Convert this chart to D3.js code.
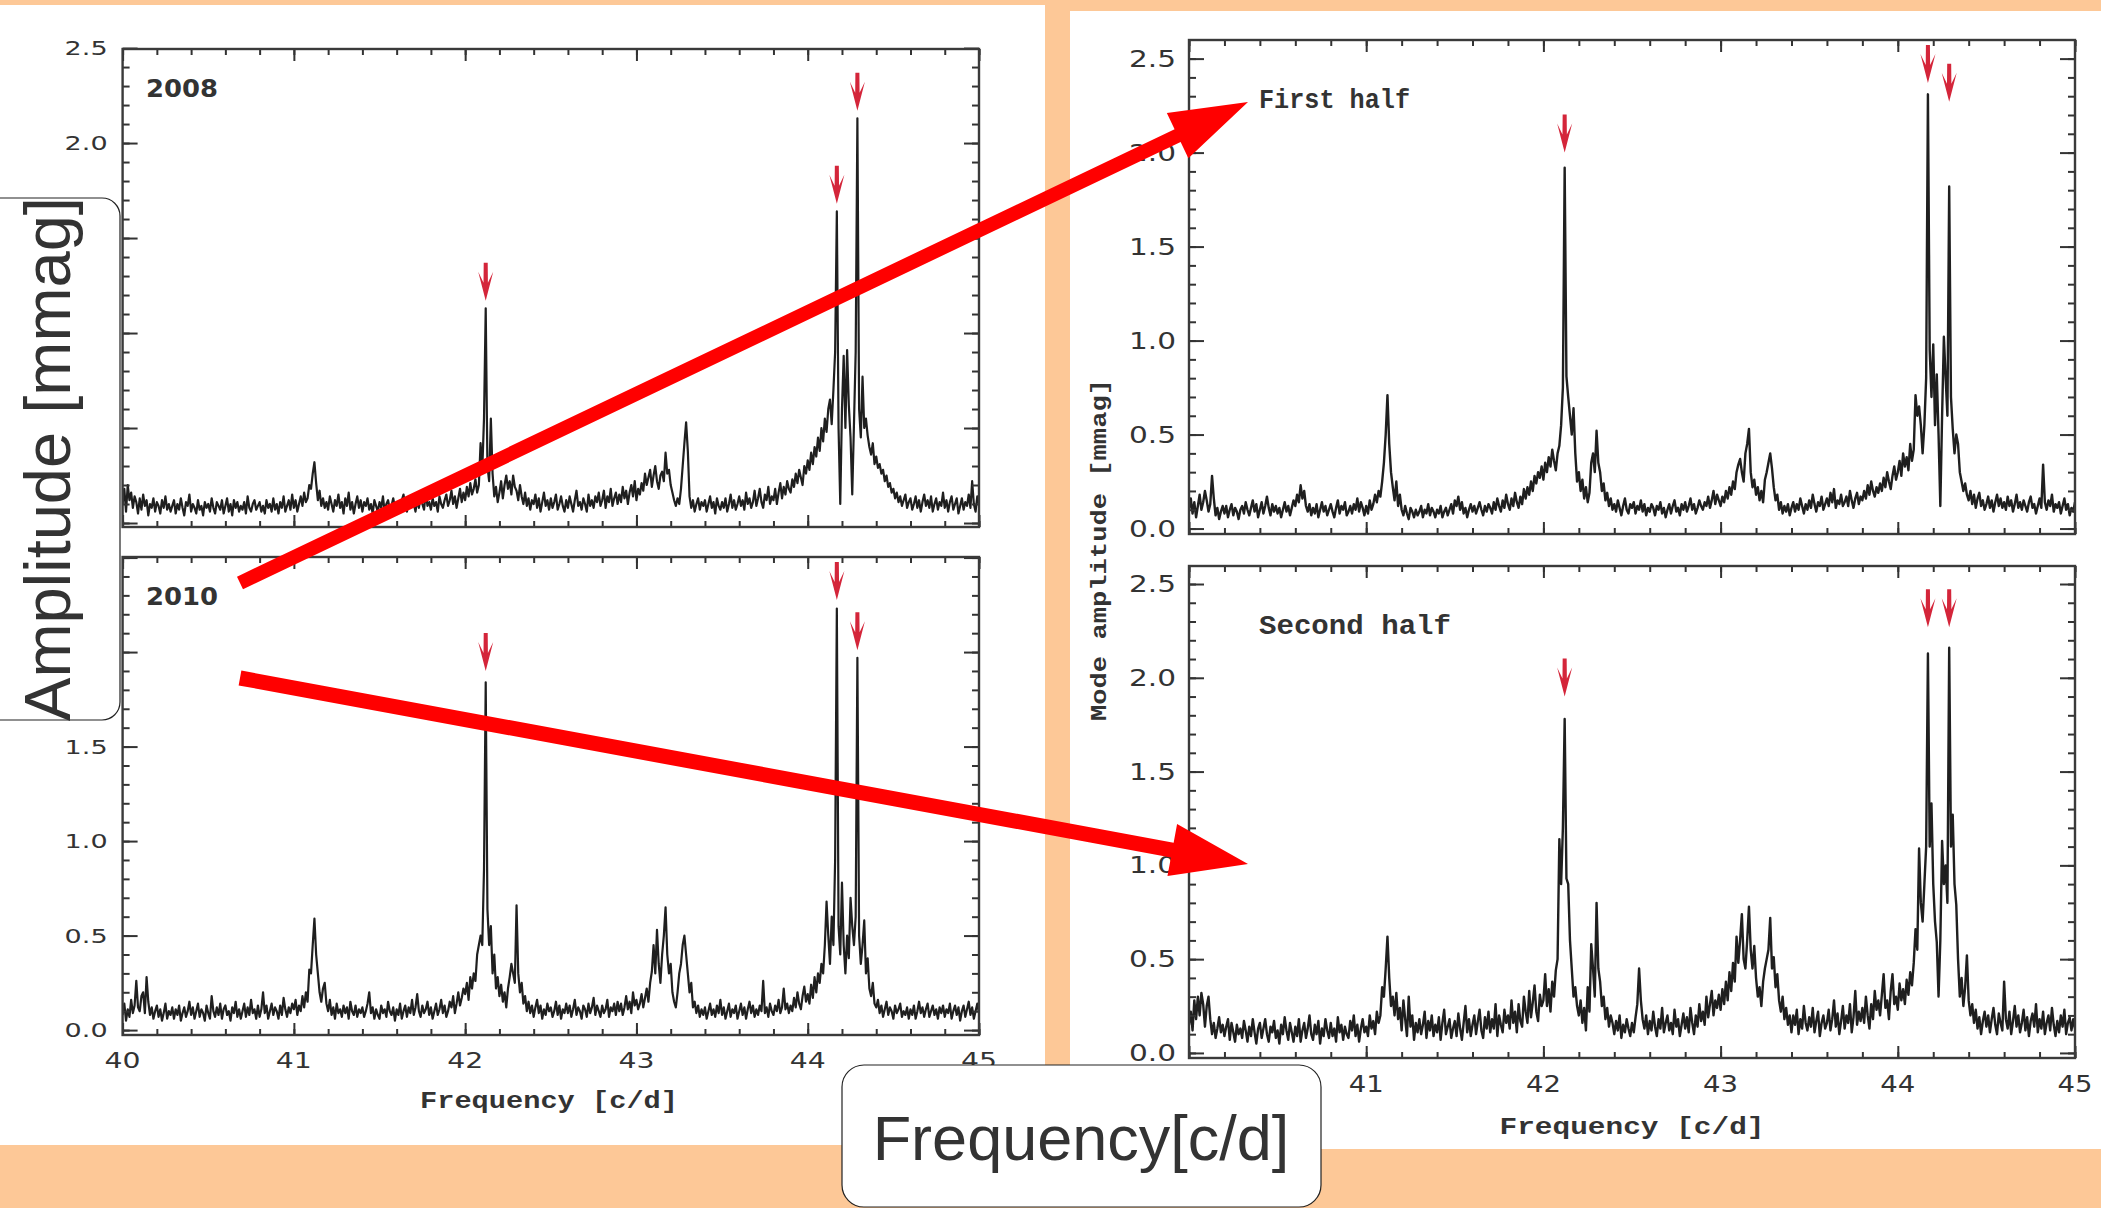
<!DOCTYPE html>
<html><head><meta charset="utf-8">
<script src="https://cdn.jsdelivr.net/npm/d3@7"></script>
<style>html,body{margin:0;padding:0;background:#fdc897;overflow:hidden}</style>
</head><body>
<svg id="c" width="2101" height="1208"></svg>
<script>
// ---------------- DATA ----------------
const FREQ_START = 40.0, FREQ_STEP = 0.01;           // frequency grid [c/d]
const xTickValues = [40, 41, 42, 43, 44, 45];
const xTickLabels = ["40", "41", "42", "43", "44", "45"];
const yTickValues = [0, 0.5, 1.0, 1.5, 2.0, 2.5];
const yTickLabels = ["0.0", "0.5", "1.0", "1.5", "2.0", "2.5"];
const panelTitles = ["2008", "2010", "First half", "Second half"];
const markerFreqs = [42.12, 44.17, 44.29];          // red arrows on modes

// amplitude [mmag], one value per 0.01 c/d from 40.00 to 45.00
const amp2008 = [
.10,.18,.06,.20,.12,.16,.08,.14,.11,.05,
.13,.07,.15,.09,.12,.04,.10,.08,.13,.06,
.11,.09,.05,.12,.08,.14,.07,.10,.06,.09,
.12,.05,.10,.07,.13,.08,.04,.11,.09,.15,
.06,.10,.08,.05,.12,.07,.09,.04,.11,.08,
.10,.06,.13,.08,.05,.11,.09,.07,.12,.05,
.09,.13,.06,.10,.04,.12,.08,.11,.06,.09,
.07,.11,.05,.14,.08,.06,.10,.12,.07,.09,
.11,.06,.09,.05,.12,.08,.10,.06,.13,.07,
.10,.05,.11,.08,.14,.06,.09,.12,.07,.15,
.08,.12,.06,.10,.14,.09,.16,.11,.13,.20,
.18,.26,.32,.21,.12,.17,.09,.13,.08,.11,
.07,.14,.10,.06,.12,.09,.15,.08,.11,.05,
.13,.09,.16,.07,.11,.05,.10,.14,.08,.12,
.06,.11,.09,.13,.07,.10,.05,.12,.09,.06,
.11,.08,.14,.06,.10,.12,.07,.09,.13,.08,
.05,.10,.07,.12,.15,.09,.06,.11,.08,.13,
.10,.06,.12,.08,.14,.10,.07,.16,.09,.11,
.07,.13,.09,.11,.06,.14,.10,.08,.12,.15,
.09,.12,.17,.10,.14,.08,.13,.18,.11,.16,
.12,.19,.14,.21,.15,.18,.23,.16,.20,.42,
.28,.55,1.13,.30,.22,.55,.26,.14,.19,.11,
.16,.22,.13,.20,.25,.18,.22,.15,.25,.19,
.17,.12,.20,.14,.10,.16,.09,.13,.07,.12,
.10,.15,.08,.13,.06,.11,.16,.09,.12,.07,
.13,.08,.11,.15,.07,.10,.14,.09,.06,.12,
.08,.14,.10,.06,.12,.17,.09,.11,.07,.13,
.10,.06,.15,.09,.12,.08,.14,.11,.16,.09,
.12,.17,.08,.14,.11,.18,.09,.13,.16,.10,
.15,.11,.19,.13,.17,.10,.16,.20,.14,.22,
.12,.18,.15,.21,.17,.26,.20,.24,.28,.19,
.25,.30,.22,.18,.25,.27,.22,.37,.26,.28,
.20,.16,.12,.09,.13,.10,.18,.30,.42,.53,
.38,.14,.08,.12,.06,.10,.13,.07,.11,.09,
.12,.06,.10,.14,.08,.11,.05,.13,.09,.07,
.11,.08,.13,.06,.10,.15,.08,.12,.07,.10,
.14,.09,.12,.07,.16,.10,.13,.08,.11,.17,
.09,.13,.18,.11,.08,.15,.12,.19,.10,.14,
.12,.18,.10,.16,.21,.13,.19,.15,.22,.18,
.16,.23,.19,.26,.21,.28,.24,.20,.30,.26,
.33,.28,.37,.31,.40,.35,.45,.38,.50,.43,
.55,.48,.60,.65,.52,.70,.90,1.64,.50,.10,
.60,.88,.50,.91,.62,.45,.15,.52,.90,2.13,
.60,.45,.77,.50,.55,.46,.40,.36,.42,.31,
.35,.29,.31,.26,.28,.22,.25,.19,.21,.16,
.18,.13,.16,.11,.14,.09,.12,.15,.08,.11,
.13,.07,.10,.14,.08,.12,.06,.11,.15,.09,
.12,.08,.14,.06,.10,.13,.07,.11,.09,.16,
.08,.12,.06,.11,.14,.07,.10,.13,.05,.09,
.13,.07,.11,.09,.15,.08,.22,.10,.06,.14,
.10];

const amp2010 = [
.08,.14,.05,.11,.07,.16,.09,.13,.26,.12,
.10,.18,.20,.09,.28,.15,.08,.12,.06,.10,
.13,.07,.11,.05,.09,.14,.06,.10,.08,.12,
.06,.11,.08,.13,.05,.09,.12,.07,.10,.15,
.08,.12,.06,.10,.14,.07,.11,.09,.05,.13,
.09,.06,.18,.10,.07,.12,.08,.14,.06,.11,
.13,.08,.10,.05,.12,.09,.15,.07,.11,.06,
.10,.14,.07,.12,.08,.16,.09,.11,.06,.13,
.07,.11,.20,.09,.13,.06,.10,.14,.08,.12,
.10,.06,.13,.08,.17,.11,.07,.12,.09,.14,
.11,.16,.08,.13,.10,.18,.12,.20,.15,.32,
.30,.45,.59,.40,.30,.20,.15,.22,.25,.14,
.10,.16,.08,.12,.06,.14,.09,.11,.07,.13,
.09,.12,.06,.15,.10,.08,.13,.07,.11,.09,
.12,.07,.10,.14,.20,.09,.12,.06,.11,.08,
.06,.13,.09,.11,.07,.15,.10,.08,.12,.05,
.11,.08,.14,.06,.10,.13,.07,.12,.09,.16,
.08,.12,.19,.10,.07,.13,.09,.11,.15,.08,
.12,.06,.10,.14,.08,.11,.16,.09,.13,.07,
.10,.15,.12,.18,.09,.14,.20,.13,.17,.22,
.19,.25,.16,.28,.22,.30,.26,.40,.45,.50,
.45,.85,1.84,.64,.45,.55,.30,.40,.22,.28,
.18,.24,.15,.20,.12,.22,.28,.35,.30,.25,
.66,.30,.20,.25,.14,.18,.10,.15,.09,.13,
.07,.12,.16,.09,.13,.06,.11,.08,.14,.10,
.12,.07,.10,.15,.08,.13,.06,.11,.09,.14,
.09,.13,.07,.11,.16,.08,.12,.10,.06,.13,
.11,.07,.14,.09,.12,.17,.08,.13,.10,.07,
.13,.09,.11,.16,.07,.12,.10,.14,.08,.15,
.10,.14,.08,.12,.18,.11,.15,.09,.20,.13,
.16,.11,.14,.19,.12,.17,.22,.15,.25,.31,
.45,.30,.53,.35,.25,.40,.50,.65,.40,.30,
.35,.20,.15,.12,.20,.30,.35,.45,.50,.40,
.30,.20,.25,.12,.15,.09,.13,.07,.11,.08,
.12,.06,.10,.14,.08,.11,.07,.13,.09,.16,
.08,.12,.06,.10,.14,.07,.11,.09,.13,.06,
.10,.14,.08,.12,.06,.11,.15,.09,.13,.07,
.11,.08,.13,.10,.26,.09,.12,.07,.14,.10,
.08,.13,.10,.16,.09,.12,.22,.11,.14,.09,
.13,.10,.17,.12,.20,.14,.11,.18,.23,.15,
.19,.14,.24,.17,.28,.20,.30,.25,.35,.30,
.45,.68,.50,.35,.60,.45,.90,2.23,.55,.40,
.78,.45,.30,.50,.38,.70,.55,.45,.60,1.97,
.50,.35,.45,.58,.30,.38,.22,.18,.25,.14,
.12,.16,.09,.13,.07,.11,.15,.08,.12,.10,
.06,.13,.09,.11,.14,.07,.10,.08,.12,.06,
.11,.08,.13,.06,.10,.15,.09,.12,.07,.11,
.14,.07,.10,.13,.08,.11,.06,.12,.09,.13,
.07,.11,.09,.14,.06,.10,.13,.08,.12,.05,
.10,.13,.07,.11,.15,.08,.12,.06,.10,.14,
.09];

const ampFirstHalf = [
.10,.16,.08,.14,.06,.12,.18,.10,.14,.20,
.15,.09,.13,.28,.16,.07,.11,.05,.09,.12,
.08,.12,.06,.10,.13,.07,.11,.09,.05,.10,
.12,.08,.14,.10,.07,.11,.15,.09,.13,.06,
.10,.14,.08,.12,.17,.11,.07,.13,.09,.12,
.08,.11,.06,.10,.14,.09,.12,.07,.11,.15,
.12,.18,.14,.23,.16,.20,.12,.09,.13,.07,
.11,.08,.13,.06,.10,.14,.09,.12,.07,.10,
.13,.09,.06,.11,.15,.08,.12,.10,.14,.07,
.09,.12,.08,.13,.10,.16,.09,.14,.11,.07,
.12,.08,.15,.10,.13,.18,.14,.20,.17,.25,
.35,.50,.71,.45,.30,.22,.15,.25,.12,.18,
.10,.07,.12,.08,.05,.11,.09,.06,.10,.07,
.09,.12,.06,.10,.08,.13,.07,.11,.09,.06,
.10,.08,.12,.06,.09,.11,.07,.10,.13,.08,
.15,.12,.17,.10,.14,.08,.11,.06,.10,.13,
.09,.12,.08,.11,.14,.10,.07,.12,.09,.13,
.11,.08,.14,.10,.16,.12,.09,.15,.11,.18,
.13,.10,.16,.12,.19,.14,.11,.17,.13,.21,
.16,.22,.18,.25,.20,.28,.24,.30,.27,.33,
.26,.35,.30,.38,.33,.42,.36,.31,.40,.44,
.55,.75,1.92,.81,.70,.60,.50,.64,.40,.25,
.30,.20,.26,.16,.22,.14,.19,.35,.40,.30,
.52,.35,.30,.20,.24,.15,.19,.12,.16,.10,
.13,.09,.15,.11,.07,.12,.16,.10,.08,.13,
.11,.14,.08,.12,.10,.15,.09,.13,.07,.11,
.09,.13,.11,.07,.12,.10,.14,.08,.11,.06,
.10,.13,.08,.12,.15,.09,.11,.07,.13,.10,
.14,.09,.12,.16,.10,.13,.08,.11,.15,.12,
.10,.14,.12,.17,.11,.15,.20,.13,.18,.15,
.12,.17,.14,.20,.16,.22,.18,.25,.21,.30,
.34,.37,.30,.25,.40,.45,.53,.30,.22,.26,
.18,.22,.15,.20,.14,.26,.30,.35,.40,.32,
.22,.15,.18,.10,.14,.08,.12,.09,.13,.07,
.11,.14,.09,.13,.10,.16,.12,.08,.13,.10,
.15,.11,.18,.13,.09,.14,.12,.17,.10,.13,
.16,.12,.19,.14,.21,.11,.15,.13,.18,.12,
.14,.17,.12,.20,.15,.11,.16,.19,.13,.17,
.15,.20,.16,.23,.18,.25,.20,.17,.22,.19,
.24,.20,.27,.22,.30,.25,.21,.28,.33,.26,
.30,.36,.28,.40,.33,.38,.31,.45,.36,.42,
.71,.60,.65,.55,.40,.55,.80,2.31,.95,.70,
.98,.55,.82,.50,.12,.60,1.02,.80,.60,1.82,
.70,.53,.40,.50,.45,.30,.25,.20,.24,.18,
.15,.20,.13,.18,.11,.16,.19,.12,.15,.10,
.13,.17,.11,.15,.09,.14,.18,.12,.16,.11,
.14,.10,.17,.12,.15,.09,.13,.18,.11,.14,
.10,.15,.12,.09,.14,.17,.11,.13,.08,.12,
.16,.11,.34,.14,.10,.15,.12,.18,.09,.13,
.11,.14,.08,.12,.16,.10,.13,.07,.11,.09,
.14];

const ampSecondHalf = [
.15,.22,.12,.28,.18,.30,.20,.32,.26,.14,
.25,.30,.18,.10,.16,.08,.13,.19,.11,.15,
.09,.14,.18,.07,.16,.11,.06,.15,.10,.13,
.08,.17,.12,.06,.14,.09,.18,.11,.05,.13,
.16,.08,.13,.18,.10,.06,.14,.11,.17,.08,
.12,.05,.15,.10,.19,.12,.07,.16,.11,.06,
.14,.09,.18,.06,.12,.16,.08,.13,.20,.10,
.07,.15,.10,.17,.05,.13,.09,.18,.12,.08,
.16,.09,.13,.06,.19,.11,.15,.07,.14,.10,
.08,.17,.12,.20,.09,.15,.06,.13,.18,.11,
.14,.09,.20,.13,.17,.10,.22,.16,.20,.35,
.30,.45,.62,.40,.25,.30,.20,.32,.18,.24,
.12,.28,.18,.09,.30,.14,.20,.07,.16,.11,
.18,.10,.15,.22,.08,.17,.12,.20,.09,.15,
.11,.19,.07,.16,.23,.10,.14,.18,.08,.13,
.17,.09,.21,.13,.07,.16,.25,.11,.18,.09,
.15,.20,.10,.17,.23,.12,.08,.19,.13,.22,
.11,.18,.13,.26,.09,.20,.15,.11,.23,.16,
.20,.13,.28,.16,.22,.11,.26,.17,.14,.30,
.22,.16,.33,.19,.27,.36,.22,.17,.31,.25,
.28,.42,.25,.34,.22,.38,.30,.44,.50,1.14,
.90,1.20,1.78,.93,.90,.60,.45,.30,.35,.25,
.20,.28,.16,.24,.12,.35,.22,.58,.45,.30,
.80,.45,.38,.25,.30,.18,.24,.14,.20,.16,
.10,.17,.12,.20,.08,.15,.11,.18,.13,.09,
.16,.11,.19,.26,.45,.28,.18,.13,.20,.10,
.17,.12,.22,.14,.09,.18,.13,.24,.11,.16,
.20,.12,.16,.10,.23,.14,.18,.09,.15,.21,
.13,.19,.11,.24,.16,.10,.20,.14,.26,.17,
.22,.15,.30,.19,.26,.33,.20,.28,.24,.31,
.23,.34,.26,.38,.28,.43,.33,.48,.38,.62,
.48,.60,.74,.50,.45,.60,.78,.55,.45,.57,
.40,.30,.35,.25,.38,.45,.50,.55,.72,.45,
.51,.35,.42,.28,.22,.30,.18,.24,.15,.20,
.11,.20,.15,.23,.10,.18,.13,.25,.16,.12,
.19,.14,.24,.11,.17,.22,.09,.16,.20,.13,
.16,.23,.12,.18,.28,.14,.21,.10,.17,.25,
.13,.20,.16,.26,.11,.19,.33,.15,.22,.17,
.24,.16,.30,.20,.13,.26,.18,.33,.23,.28,
.20,.31,.42,.24,.28,.18,.33,.42,.26,.30,
.23,.37,.28,.34,.26,.39,.31,.43,.36,.48,
.66,.55,1.09,.80,.70,.90,1.10,2.13,1.10,1.33,
.90,.70,.59,.30,.60,1.13,.90,1.00,.80,2.16,
1.10,1.27,.90,.79,.50,.30,.40,.25,.35,.52,
.28,.20,.26,.16,.23,.13,.19,.10,.17,.22,
.14,.20,.11,.18,.24,.15,.10,.21,.16,.12,
.38,.18,.13,.22,.10,.17,.25,.14,.20,.11,
.16,.23,.12,.19,.09,.17,.21,.14,.26,.11,
.18,.13,.22,.10,.16,.20,.12,.24,.15,.09,
.17,.11,.20,.14,.23,.10,.16,.19,.12,.18,
.13];

const markerTips2008 = [1.17, 1.68, 2.17];
const markerTips2010 = [1.90, 2.275, 2.01];
const markerTipsFirst = [2.00, 2.37, 2.27];
const markerTipsSecond = [1.90, 2.27, 2.27];

// ---------------- DRAWING ----------------
const svg = d3.select("#c");
const INK = "#1f1f1f";

svg.append("rect").attr("x", 0).attr("y", 0).attr("width", 2101).attr("height", 1208).attr("fill", "#fdc897");
svg.append("rect").attr("x", 0).attr("y", 5).attr("width", 1045).attr("height", 1140).attr("fill", "#ffffff");
svg.append("rect").attr("x", 1070).attr("y", 11).attr("width", 1031).attr("height", 1138).attr("fill", "#ffffff");

const panels = [
  {id: "tl", values: amp2008, tips: markerTips2008, title: panelTitles[0], side: "left",
   left: 122.6, right: 979, top: 49, bottom: 527, yMin: -0.021, yMax: 2.495, xLabels: false},
  {id: "bl", values: amp2010, tips: markerTips2010, title: panelTitles[1], side: "left",
   left: 122.6, right: 979, top: 557, bottom: 1035, yMin: -0.026, yMax: 2.503, xLabels: true},
  {id: "tr", values: ampFirstHalf, tips: markerTipsFirst, title: panelTitles[2], side: "right",
   left: 1189, right: 2075, top: 40, bottom: 534, yMin: -0.029, yMax: 2.599, xLabels: false},
  {id: "br", values: ampSecondHalf, tips: markerTipsSecond, title: panelTitles[3], side: "right",
   left: 1189, right: 2075, top: 566, bottom: 1058, yMin: -0.027, yMax: 2.596, xLabels: true}
];

const xMinor = d3.range(40, 45.0001, 0.2);

function drawPanel(p) {
  const x = d3.scaleLinear().domain([40, 45]).range([p.left, p.right]);
  const y = d3.scaleLinear().domain([p.yMin, p.yMax]).range([p.bottom, p.top]);
  const yMinor = d3.range(0, p.yMax + 0.0001, 0.1);
  const g = svg.append("g");

  svg.append("clipPath").attr("id", "clip-" + p.id)
    .append("rect").attr("x", p.left).attr("y", p.top)
    .attr("width", p.right - p.left).attr("height", p.bottom - p.top);

  const pts = p.values.map((v, i) => ({f: FREQ_START + i * FREQ_STEP, a: v}));
  g.append("path").datum(pts)
    .attr("clip-path", `url(#clip-${p.id})`)
    .attr("fill", "none").attr("stroke", INK)
    .attr("stroke-width", p.side === "left" ? 2.2 : 2.4)
    .attr("stroke-linejoin", "round")
    .attr("d", d3.line().x(d => x(d.f)).y(d => y(d.a)));

  function addAxis(axis, tr) {
    const a = g.append("g").attr("transform", tr).call(axis);
    a.select(".domain").remove();
    a.selectAll("text").remove();
    a.selectAll("line").attr("stroke", "#333").attr("stroke-width", 2);
  }
  addAxis(d3.axisBottom(x).tickValues(xTickValues).tickSize(-12), `translate(0,${p.bottom})`);
  addAxis(d3.axisBottom(x).tickValues(xMinor).tickSize(-6), `translate(0,${p.bottom})`);
  addAxis(d3.axisTop(x).tickValues(xTickValues).tickSize(-12), `translate(0,${p.top})`);
  addAxis(d3.axisTop(x).tickValues(xMinor).tickSize(-6), `translate(0,${p.top})`);
  addAxis(d3.axisLeft(y).tickValues(yTickValues).tickSize(-15), `translate(${p.left},0)`);
  addAxis(d3.axisLeft(y).tickValues(yMinor).tickSize(-7), `translate(${p.left},0)`);
  addAxis(d3.axisRight(y).tickValues(yTickValues).tickSize(-15), `translate(${p.right},0)`);
  addAxis(d3.axisRight(y).tickValues(yMinor).tickSize(-7), `translate(${p.right},0)`);

  g.append("rect").attr("x", p.left).attr("y", p.top)
    .attr("width", p.right - p.left).attr("height", p.bottom - p.top)
    .attr("fill", "none").attr("stroke", "#3a3a3a").attr("stroke-width", 2.4);

  // y tick labels
  const isL = p.side === "left";
  g.selectAll(".yl").data(yTickValues.map((v, i) => ({v, t: yTickLabels[i]})))
    .join("text")
    .attr("x", p.left - (isL ? 15 : 13))
    .attr("y", d => y(d.v) + (isL ? 7 : 8))
    .attr("text-anchor", "end")
    .attr("font-family", "DejaVu Sans, sans-serif")
    .attr("font-size", isL ? 20 : 23)
    .attr("textLength", isL ? 43 : 47).attr("lengthAdjust", "spacingAndGlyphs")
    .attr("fill", "#333").text(d => d.t);

  if (p.xLabels) {
    g.selectAll(".xl").data(xTickValues.map((v, i) => ({v, t: xTickLabels[i]})))
      .join("text")
      .attr("x", d => x(d.v)).attr("y", isL ? 1068 : 1092)
      .attr("text-anchor", "middle")
      .attr("font-family", "DejaVu Sans, sans-serif")
      .attr("font-size", isL ? 22 : 23)
      .attr("textLength", isL ? 36 : 35).attr("lengthAdjust", "spacingAndGlyphs")
      .attr("fill", "#333").text(d => d.t);
    g.append("text")
      .attr("x", isL ? 549 : 1632).attr("y", isL ? 1108 : 1134)
      .attr("text-anchor", "middle")
      .attr("font-family", "Liberation Mono, monospace").attr("font-weight", "bold")
      .attr("font-size", 23)
      .attr("textLength", isL ? 258 : 265).attr("lengthAdjust", "spacingAndGlyphs")
      .attr("fill", "#333").text("Frequency [c/d]");
  }

  // panel title
  if (isL) {
    g.append("text").attr("x", 146).attr("y", p.top + 48)
      .attr("font-family", "DejaVu Sans, sans-serif").attr("font-weight", "bold")
      .attr("font-size", 25).attr("textLength", 72).attr("lengthAdjust", "spacingAndGlyphs")
      .attr("fill", "#333").text(p.title);
  } else {
    g.append("text").attr("x", 1259).attr("y", p.top + 68)
      .attr("font-family", "Liberation Mono, monospace").attr("font-weight", "bold")
      .attr("font-size", 27).attr("textLength", p.title.length > 10 ? 192 : 151)
      .attr("lengthAdjust", "spacingAndGlyphs")
      .attr("fill", "#333").text(p.title);
  }

  // red mode markers
  g.selectAll(".mk").data(markerFreqs.map((f, i) => ({f, tip: p.tips[i]})))
    .join("path")
    .attr("transform", d => `translate(${x(d.f)},${y(d.tip)})`)
    .attr("d", "M0,0 L-7.5,-29 L-2.2,-18 L-2,-38 L2,-38 L2.2,-18 L7.5,-29 Z")
    .attr("fill", "#d4253a");
}
panels.forEach(drawPanel);

// right shared y-axis title
svg.append("text")
  .attr("transform", "translate(1106,550) rotate(-90)")
  .attr("text-anchor", "middle")
  .attr("font-family", "Liberation Mono, monospace").attr("font-weight", "bold")
  .attr("font-size", 22).attr("textLength", 342).attr("lengthAdjust", "spacingAndGlyphs")
  .attr("fill", "#333").text("Mode amplitude [mmag]");

// big red annotation arrows
function bigArrow(tail, tip, w, hl, hw) {
  const dx = tip[0] - tail[0], dy = tip[1] - tail[1];
  const L = Math.hypot(dx, dy), ux = dx / L, uy = dy / L, nx = -uy, ny = ux;
  const bx = tip[0] - ux * hl, by = tip[1] - uy * hl;
  const P = [
    [tail[0] + nx * w / 2, tail[1] + ny * w / 2],
    [bx + nx * w / 2, by + ny * w / 2],
    [bx + nx * hw / 2, by + ny * hw / 2],
    tip,
    [bx - nx * hw / 2, by - ny * hw / 2],
    [bx - nx * w / 2, by - ny * w / 2],
    [tail[0] - nx * w / 2, tail[1] - ny * w / 2]
  ];
  svg.append("path").attr("d", "M" + P.map(p => p.join(",")).join("L") + "Z").attr("fill", "#ff0000");
}
bigArrow([240, 583], [1248, 102], 14, 78, 50);
bigArrow([240, 678], [1248, 864], 15, 77, 53);

// boxed big labels
svg.append("rect").attr("x", -30).attr("y", 198).attr("width", 150).attr("height", 522)
  .attr("rx", 18).attr("fill", "#fff").attr("stroke", "#222").attr("stroke-width", 1.2);
svg.append("text")
  .attr("transform", "translate(70,459) rotate(-90)")
  .attr("text-anchor", "middle")
  .attr("font-family", "Liberation Sans, Arial, sans-serif")
  .attr("font-size", 65).attr("fill", "#333").text("Amplitude [mmag]");

svg.append("rect").attr("x", 842).attr("y", 1065).attr("width", 479).attr("height", 142)
  .attr("rx", 22).attr("fill", "#fff").attr("stroke", "#222").attr("stroke-width", 1.2);
svg.append("text")
  .attr("x", 1081).attr("y", 1160).attr("text-anchor", "middle")
  .attr("font-family", "Liberation Sans, Arial, sans-serif")
  .attr("font-size", 63).attr("fill", "#333").text("Frequency[c/d]");
</script>
</body></html>
